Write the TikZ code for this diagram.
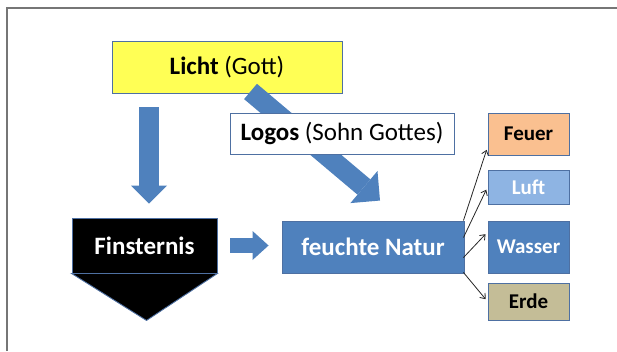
\documentclass[tikz,border=0pt]{standalone}
\usepackage{fontspec}
\setmainfont{Carlito}
\usetikzlibrary{arrows.meta}

\definecolor{officeblue}{RGB}{79,129,189}
\definecolor{rimblue}{RGB}{78,112,162}
\definecolor{lichtgelb}{RGB}{255,255,85}
\definecolor{feuerorange}{RGB}{250,192,144}
\definecolor{lufthell}{RGB}{142,180,227}
\definecolor{erdbraun}{RGB}{196,189,151}
\definecolor{framegray}{RGB}{118,118,118}

\tikzset{
	box/.style={draw=rimblue, line width=0.9pt, inner sep=0pt, font=\fontsize{25}{30}\selectfont},
	element/.style={box, minimum width=81pt, font=\bfseries\fontsize{21}{25}\selectfont},
	blockarrow/.style={draw=officeblue, line cap=butt},
	thinarrow/.style={-{Straight Barb[length=4.5pt,width=7pt]}, line width=0.8pt, draw=black!85, shorten >=3pt}
}

\begin{document}
\begin{tikzpicture}[x=1pt, y=-1pt]
		\useasboundingbox (0,0) rectangle (617,351);
		\draw[framegray, line width=2pt] (7,351) -- (7,7.5) -- (617,7.5);
		% Licht und Logos
		\node[box, fill=lichtgelb, minimum width=230pt, minimum height=52pt] (licht) at (227,67) {\textbf{Licht} (Gott)};
		\node[box, fill=black, text=white, font=\bfseries\fontsize{25}{30}\selectfont, minimum width=145pt, minimum height=55pt] (fin) at (144.5,245.5) {Finsternis};
		\draw[draw=rimblue, fill=black, line width=0.9pt] (fin.south west) -- (fin.south east) -- ([xshift=2pt,yshift=-47pt]fin.south) -- cycle;
		\node[box, fill=officeblue, text=white, font=\bfseries\fontsize{25}{30}\selectfont, minimum width=182pt, minimum height=52pt] (natur) at (373,247) {feuchte Natur};
		\draw[blockarrow, line width=20pt, -{Triangle[width=42pt,length=21pt,line width=0pt]}] ([xshift=23.5pt,yshift=2pt]licht.south) -- ([xshift=7pt,yshift=20pt]natur.north);
		\node[box, fill=white, minimum width=224pt, minimum height=41pt] (logos) at (342,133.5) {\textbf{Logos} (Sohn Gottes)};
		\draw[blockarrow, line width=20pt, -{Triangle[width=36pt,length=18pt,line width=0pt]}] ([xshift=4.5pt,yshift=-14pt]fin.north |- licht.south) -- ([xshift=4.5pt,yshift=14pt]fin.north);
		\draw[blockarrow, line width=15pt, -{Triangle[width=29pt,length=16pt,line width=0pt]}] ([xshift=13pt]fin.east) -- ([xshift=-13pt]fin.east -| natur.west);
		% die vier Elemente
		\node[element, fill=feuerorange, minimum height=42pt] (feuer) at (528.5,134) {Feuer};
		\node[element, fill=lufthell, text=white, minimum height=34pt] (luft) at (528.5,187) {Luft};
		\node[element, fill=officeblue, text=white, minimum height=52pt] (wasser) at (528.5,247) {Wasser};
		\node[element, fill=erdbraun, minimum height=37pt] (erde) at (528.5,301.5) {Erde};
		\draw[thinarrow] ([xshift=-1pt]natur.north east) -- ([yshift=-13pt]feuer.west);
		\draw[thinarrow] ([xshift=-1pt,yshift=-17pt]natur.north east) -- (luft.west);
		\draw[thinarrow] ([xshift=-1pt,yshift=-37pt]natur.north east) -- ([yshift=15pt]wasser.west);
		\draw[thinarrow] ([xshift=-1pt,yshift=1pt]natur.south east) -- (erde.west);
	\end{tikzpicture}
\end{document}
